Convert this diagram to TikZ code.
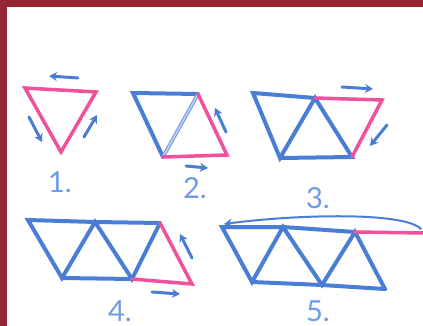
\documentclass[tikz,border=0pt]{standalone}
\usepackage{fontspec}
\setmainfont{Lato}
\usetikzlibrary{arrows.meta}
\definecolor{FrameRed}{HTML}{952633}
\definecolor{PenBlue}{HTML}{4A7DD6}
\definecolor{PenPink}{HTML}{F0509C}
\definecolor{InkBlue}{HTML}{6F9BE6}
\begin{document}
\begin{tikzpicture}[x=1pt,y=-1pt,
  stick/.style={PenBlue,line width=4pt,line cap=round},
  moved/.style={PenPink,line width=3.5pt,line cap=round},
  twin/.style={PenBlue!80,double=PenBlue!35,double distance=1.6pt,line width=1pt},
  hint/.style={-{Stealth[length=8pt,width=9pt]},PenBlue,line width=3pt,line cap=round},
  num/.style={InkBlue,inner sep=0pt,font=\fontsize{29}{30}\selectfont}
]
  \useasboundingbox (0,0) rectangle (423,326);
  \fill[white] (0,0) rectangle (423,326);
  \fill[FrameRed] (0,0) rectangle (423,7);
  \fill[FrameRed] (0,0) rectangle (7,326);

  % 1.
  \coordinate (f1tl) at (25,88);
  \coordinate (f1tr) at (96,92);
  \coordinate (f1b)  at (61,152);
  \draw[moved] (f1tl) -- (f1tr) -- (f1b) -- cycle;
  \coordinate (a1s) at (78,78);  \coordinate (a1e) at (49,76);
  \coordinate (b1s) at (29,117); \coordinate (b1e) at (42,142);
  \coordinate (c1s) at (84,137); \coordinate (c1e) at (97,115);
  \draw[hint] (a1s) -- (a1e);
  \draw[hint] (b1s) -- (b1e);
  \draw[hint] (c1s) -- (c1e);
  \node[num] (n1) at (60,182) {1.};

  % 2.
  \coordinate (f2tl) at (133,93);
  \coordinate (f2tr) at (198,94);
  \coordinate (f2bl) at (163,157);
  \coordinate (f2br) at (227,155);
  \draw[stick] (f2bl) -- (f2tl) -- (f2tr);
  \draw[twin] (f2tr) -- (f2bl);
  \draw[moved] (f2tr) -- (f2br) -- (f2bl);
  \coordinate (a2s) at (226,132); \coordinate (a2e) at (215,108);
  \coordinate (b2s) at (186,166); \coordinate (b2e) at (208,168);
  \draw[hint] (a2s) -- (a2e);
  \draw[hint] (b2s) -- (b2e);
  \node[num] (n2) at (195,188) {2.};

  % 3.
  \coordinate (f3tl) at (253,93);
  \coordinate (f3tm) at (315,98);
  \coordinate (f3tr) at (382,100);
  \coordinate (f3bl) at (280,158);
  \coordinate (f3bm) at (352,157);
  \draw[stick] (f3tm) -- (f3tl) -- (f3bl) -- (f3tm) -- (f3bm) -- (f3bl);
  \draw[moved] (f3tm) -- (f3tr) -- (f3bm);
  \coordinate (a3s) at (342,87);  \coordinate (a3e) at (373,89);
  \coordinate (b3s) at (387,125); \coordinate (b3e) at (370,146);
  \draw[hint] (a3s) -- (a3e);
  \draw[hint] (b3s) -- (b3e);
  \node[num] (n3) at (318,198) {3.};

  % 4.
  \coordinate (f4tl) at (28,220);
  \coordinate (f4tm) at (95,222);
  \coordinate (f4tr) at (160,223);
  \coordinate (f4bl) at (62,278);
  \coordinate (f4bm) at (132,279);
  \coordinate (f4br) at (192,284);
  \draw[stick] (f4tr) -- (f4tm) -- (f4tl) -- (f4bl) -- (f4tm) -- (f4bm) -- (f4tr);
  \draw[stick] (f4bl) -- (f4bm);
  \draw[moved] (f4tr) -- (f4br) -- (f4bm);
  \coordinate (a4s) at (192,258); \coordinate (a4e) at (180,234);
  \coordinate (b4s) at (152,292); \coordinate (b4e) at (180,294);
  \draw[hint] (a4s) -- (a4e);
  \draw[hint] (b4s) -- (b4e);
  \node[num] (n4) at (120,311) {4.};

  % 5.
  \coordinate (f5tl) at (222,227);
  \coordinate (f5t2) at (283,227);
  \coordinate (f5t3) at (355,232);
  \coordinate (f5tx) at (424,233);
  \coordinate (f5bl) at (252,282);
  \coordinate (f5bm) at (322,285);
  \coordinate (f5br) at (385,289);
  \draw[stick] (f5t3) -- (f5t2) -- (f5tl) -- (f5bl) -- (f5t2) -- (f5bm) -- (f5t3) -- (f5br);
  \draw[stick] (f5bl) -- (f5bm) -- (f5br);
  \draw[moved] (f5t3) -- (f5tx);
  \coordinate (a5s) at (421,229); \coordinate (a5e) at (224,224);
  \draw[hint,line width=2pt] (a5s) .. controls (405,212) and (300,214) .. (a5e);
  \node[num] (n5) at (318,311) {5.};
\end{tikzpicture}
\end{document}
